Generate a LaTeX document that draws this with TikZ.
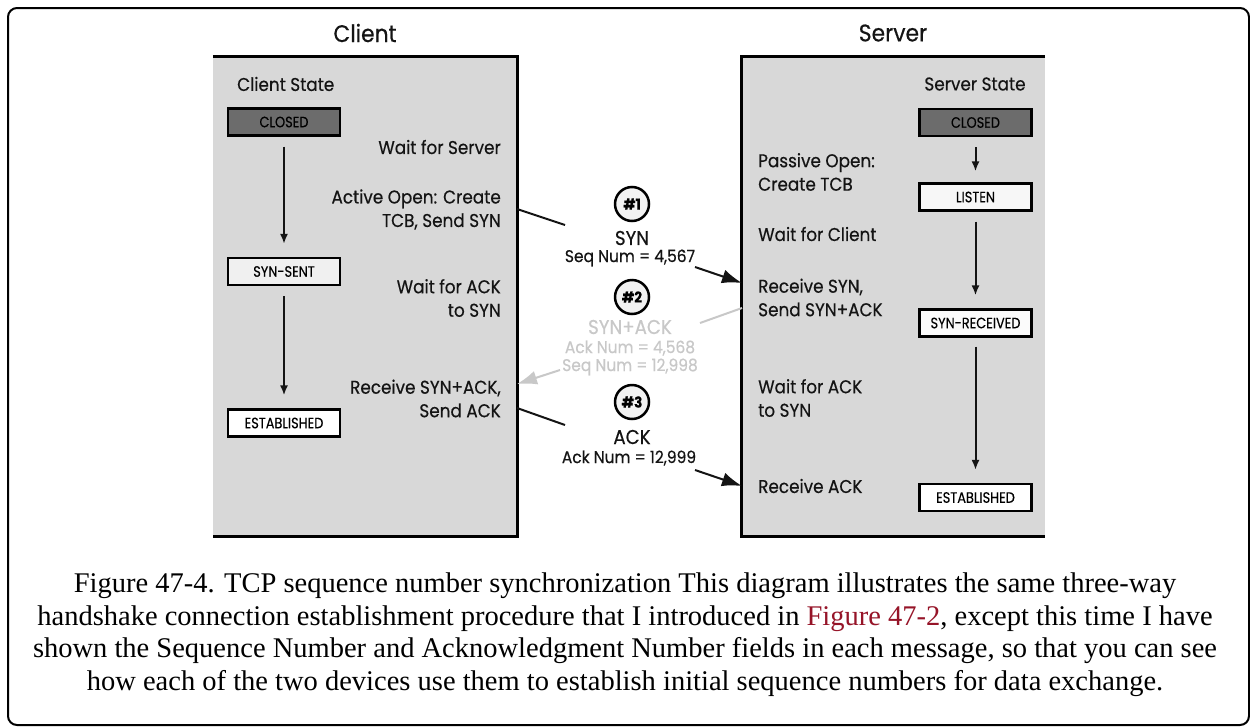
\documentclass[tikz,border=0pt]{standalone}
\usepackage{fontspec}
\setmainfont{Liberation Serif}
\newfontfamily\diagfont[FakeStretch=0.91,FakeBold=0.4]{Poppins}
\newfontfamily\statefont[FakeStretch=0.86,FakeBold=0.3]{Poppins}
\usetikzlibrary{arrows.meta}
\definecolor{panel}{RGB}{216,216,216}
\definecolor{darkstate}{RGB}{108,108,108}
\definecolor{ink}{RGB}{20,20,20}
\definecolor{faint}{RGB}{200,200,200}
\definecolor{linkred}{RGB}{150,20,40}
\tikzset{
  title/.style={font=\diagfont\fontsize{24}{28}\selectfont, text=ink, inner sep=0pt},
  body/.style={font=\diagfont\fontsize{18.5}{23.5}\selectfont, text=ink, inner sep=0pt},
  msgname/.style={font=\diagfont\fontsize{20}{24}\selectfont, text=ink, inner sep=0pt},
  small/.style={font=\diagfont\fontsize{17}{20}\selectfont, text=ink, inner sep=0pt},
  statebox/.style={draw=black, line width=2.2pt, minimum width=112pt, minimum height=27pt,
    inner sep=0pt, font=\statefont\fontsize{15}{17}\selectfont, text=black},
  circ/.style={circle, draw=black, line width=2.5pt, fill=gray!10, minimum size=34pt,
    inner sep=0pt, font=\diagfont\bfseries\fontsize{15}{17}\selectfont},
  stateflow/.style={line width=2pt, draw=ink, -{Latex[length=10pt,width=8pt]}},
  msgline/.style={line width=2pt, draw=ink},
  msgarrow/.style={line width=2pt, draw=ink, -{Latex[length=20pt,width=14pt]}},
  caption/.style={font=\fontsize{28.5}{32}\selectfont, inner sep=0pt, anchor=base}
}
\begin{document}
\begin{tikzpicture}[x=1pt,y=-1pt]
\useasboundingbox (0,0) rectangle (1250,726);
\fill[white] (0,0) rectangle (1250,726);
\draw[line width=2pt, rounded corners=9pt] (8,8) rectangle (1249,725);

% panels
\node[fill=panel, minimum width=304pt, minimum height=479pt, inner sep=0pt] (cpanel) at (365,296.5) {};
\draw[line width=2.8pt] (cpanel.north west) -- (cpanel.north east) -- (cpanel.south east) -- (cpanel.south west);
\node[fill=panel, minimum width=303pt, minimum height=479pt, inner sep=0pt] (spanel) at (893.5,296.5) {};
\draw[line width=2.8pt] (spanel.north east) -- (spanel.north west) -- (spanel.south west) -- (spanel.south east);

% titles
\node[title] (ctitle) at (365,33) {Client};
\node[title] (stitle) at (893,33) {Server};

% client side
\node[body, anchor=west] (cstate) at (237,84) {Client State};
\node[statebox, fill=darkstate] (cclosed) at (284,122) {CLOSED};
\node[statebox, fill=gray!12] (csynsent) at (284,271.5) {SYN-SENT};
\node[statebox, fill=white] (cest) at (284,423) {ESTABLISHED};
\draw[stateflow] ([yshift=-10pt]cclosed.south) -- ([yshift=13pt]csynsent.north);
\draw[stateflow] ([yshift=-10pt]csynsent.south) -- ([yshift=13pt]cest.north);

\node[body, anchor=east, align=right] (cwait) at (501,147) {Wait for Server};
\node[body, anchor=east, align=right] (copen) at (501,209.5) {Active Open: Create\\TCB, Send SYN};
\node[body, anchor=east, align=right] (cwack) at (501,298) {Wait for ACK\\to SYN};
\node[body, anchor=east, align=right] (crecv) at (501,398.5) {Receive SYN+ACK,\\Send ACK};

% server side
\node[body] (sstate) at (975,84) {Server State};
\node[statebox, fill=darkstate] (sclosed) at (975.5,122.5) {CLOSED};
\node[statebox, fill=gray!6] (slisten) at (975.5,197) {LISTEN};
\node[statebox, fill=gray!3] (ssynrcv) at (975.5,323) {SYN-RECEIVED};
\node[statebox, fill=white] (sest) at (975.5,497.5) {ESTABLISHED};
\draw[stateflow] ([yshift=-10pt]sclosed.south) -- ([yshift=11pt]slisten.north);
\draw[stateflow] ([yshift=-10pt]slisten.south) -- ([yshift=13pt]ssynrcv.north);
\draw[stateflow] ([yshift=-9pt]ssynrcv.south) -- ([yshift=13pt]sest.north);

\node[body, anchor=west, align=left] (spass) at (758,172) {Passive Open:\\Create TCB};
\node[body, anchor=west, align=left] (swait) at (758,234) {Wait for Client};
\node[body, anchor=west, align=left] (srecv) at (758,297.5) {Receive SYN,\\Send SYN+ACK};
\node[body, anchor=west, align=left] (swack) at (758,398) {Wait for ACK\\to SYN};
\node[body, anchor=west, align=left] (srack) at (758,486) {Receive ACK};

% messages
\node[circ] (m1) at (632,204) {\#1};
\node[msgname] (m1name) at (632,238) {SYN};
\node[small] (m1seq) at (630,258) {Seq Num = 4,567};

\node[circ] (m2) at (632,297) {\#2};
\node[msgname, text=faint] (m2name) at (630,327) {SYN+ACK};
\node[small, text=faint] (m2ack) at (630,348) {Ack Num = 4,568};
\node[small, text=faint] (m2seq) at (630,367) {Seq Num = 12,998};

\node[circ] (m3) at (632,402) {\#3};
\node[msgname] (m3name) at (632,437) {ACK};
\node[small] (m3ack) at (629,458) {Ack Num = 12,999};

\coordinate (l1a) at (517,209);
\coordinate (l1b) at (565,225);
\coordinate (a1a) at (695,267);
\coordinate (a1b) at (742,283);
\draw[msgline] (l1a) -- (l1b);
\draw[msgarrow] (a1a) -- (a1b);

\coordinate (l2a) at (742,308);
\coordinate (l2b) at (700,323);
\coordinate (a2a) at (560,370);
\coordinate (a2b) at (517,384);
\draw[msgline, draw=faint] (l2a) -- (l2b);
\draw[msgarrow, draw=faint] (a2a) -- (a2b);

\coordinate (l3a) at (517,408);
\coordinate (l3b) at (565,425);
\coordinate (a3a) at (695,470);
\coordinate (a3b) at (742,486);
\draw[msgline] (l3a) -- (l3b);
\draw[msgarrow] (a3a) -- (a3b);

% caption
\node[caption] (cap1) at (625,592) {Figure 47-4. TCP sequence number synchronization This diagram illustrates the same three-way};
\node[caption] (cap2) at (625,625) {handshake connection establishment procedure that I introduced in \textcolor{linkred}{Figure 47-2}, except this time I have};
\node[caption] (cap3) at (625,657) {shown the Sequence Number and Acknowledgment Number fields in each message, so that you can see};
\node[caption] (cap4) at (625,690) {how each of the two devices use them to establish initial sequence numbers for data exchange.};
\end{tikzpicture}
\end{document}
